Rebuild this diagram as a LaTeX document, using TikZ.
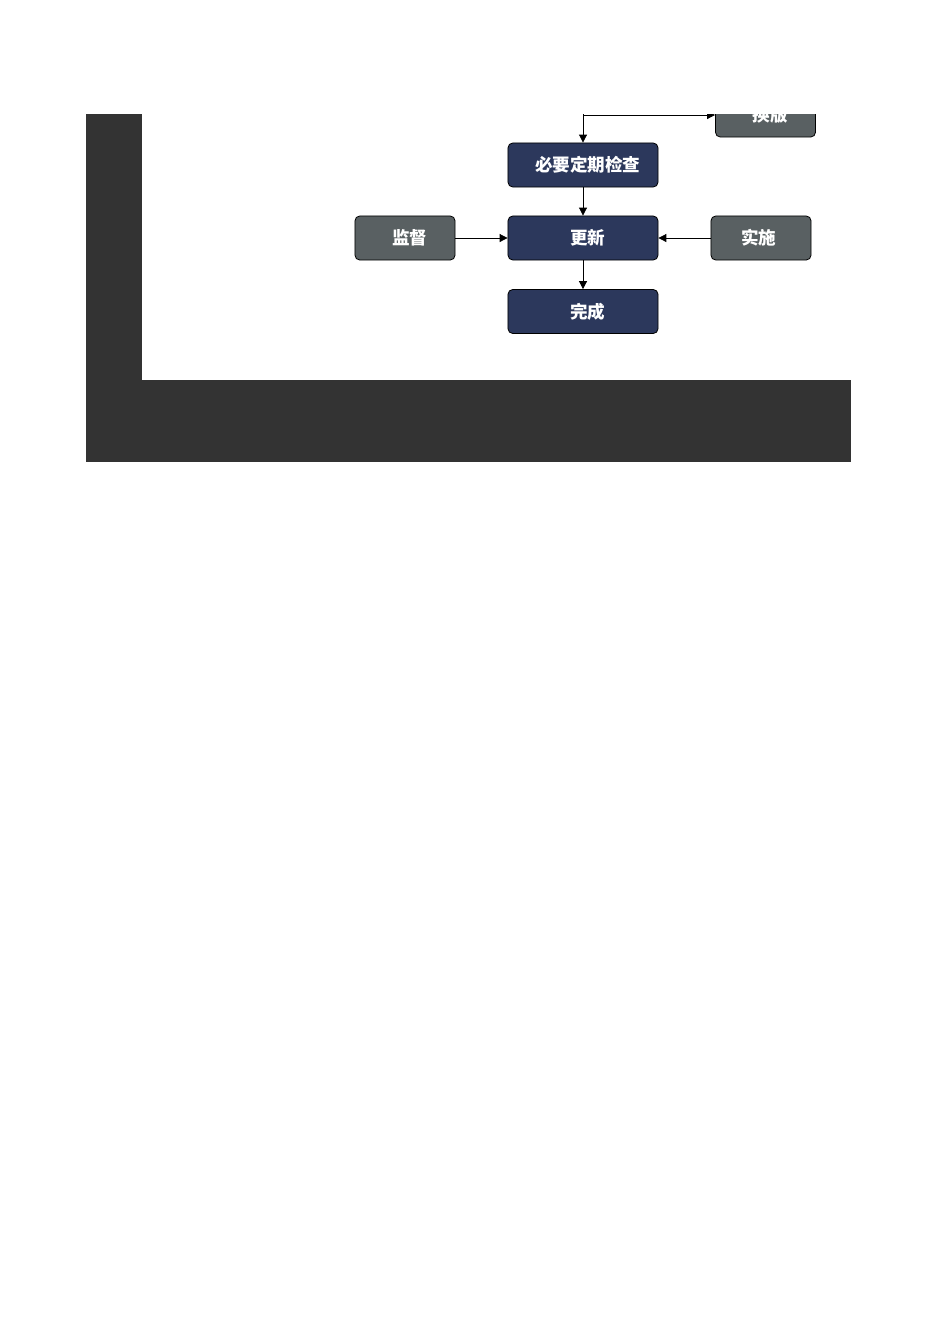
\documentclass[tikz,border=0pt]{standalone}
\usepackage{fontspec}
\newfontfamily\cjk{Noto Sans CJK SC}
\usepackage{tikz}
\usetikzlibrary{calc}
\usetikzlibrary{arrows.meta}

\definecolor{bardark}{HTML}{333333}
\definecolor{stepnavy}{HTML}{2C385C}
\definecolor{sidegray}{HTML}{596062}

\tikzset{
  mainbox/.style={draw=black,fill=stepnavy,rounded corners=3pt,line width=0.5pt,
    minimum width=94pt,minimum height=27.6pt,inner sep=0pt,text=white,
    font=\cjk\bfseries\fontsize{11pt}{13pt}\selectfont},
  sidebox/.style={mainbox,fill=sidegray,minimum width=62.7pt},
  flow/.style={-{Triangle[length=5pt,width=5pt]},line width=0.5pt}
}

\begin{document}
\begin{tikzpicture}[x=0.62661pt,y=-0.62661pt]
      \useasboundingbox (0,0) rectangle (950,1344);
      \fill[bardark] (86,114) rectangle (142,380);
      \fill[bardark] (86,380) rectangle (851,462);

      \node[mainbox] (check) at (583,165) {\hspace{6pt}必要定期检查};
      \node[mainbox] (update) at (583,238) {\hspace{6pt}更新};
      \node[mainbox] (done) at (583,311.5) {\hspace{6pt}完成};
      \node[sidebox] (watch) at (405,238) {\hspace{6pt}监督};
      \node[sidebox] (apply) at (761,238) {\hspace{-3pt}实施};

      \begin{scope}
        \clip (0,114) rectangle (950,1344);
        \node[sidebox] (swap) at (765.5,115) {\hspace{6pt}换版};
        \coordinate (fork) at (583,115);
        \draw[line width=0.5pt] (fork) -- (583,100);
        \draw[flow] (fork) -- (swap.west);
      \end{scope}

      \draw[flow] (fork) -- (check.north);
      \draw[flow] (check) -- (update);
      \draw[flow] (update) -- (done);
      \draw[flow] (watch) -- (update);
      \draw[flow] (apply) -- (update);
\end{tikzpicture}
\end{document}
